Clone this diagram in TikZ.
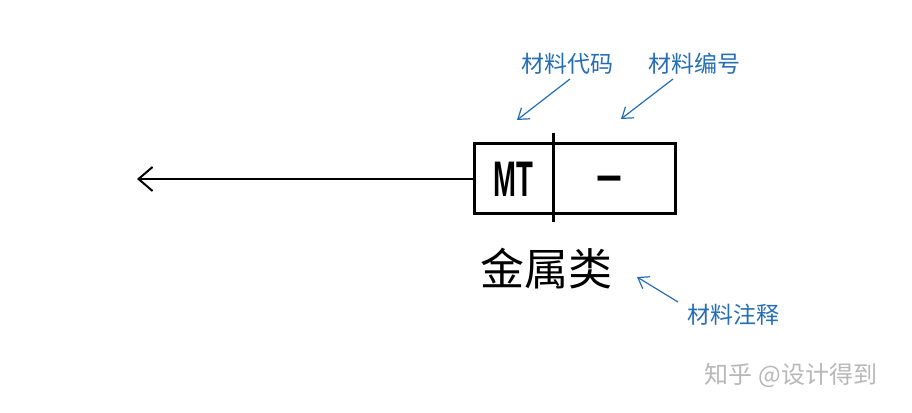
\documentclass[tikz,border=0pt]{standalone}
\usepackage{fontspec}
\setmainfont{Liberation Sans}
\newfontfamily\cjk{Noto Sans CJK SC}
\usetikzlibrary{arrows.meta}
\definecolor{lblblue}{RGB}{38,110,180}
\tikzset{
  x=1pt,y=1pt,
  mainbox/.style={draw=black,line width=3pt,minimum width=201pt,minimum height=70pt,inner sep=0pt},
  bluelbl/.style={text=lblblue,font=\cjk\fontsize{23}{23}\selectfont,inner sep=0pt},
  bluearr/.style={draw=lblblue,line width=1.2pt,-{Straight Barb[length=10pt,width=14pt]}},
}
\begin{document}
\begin{tikzpicture}
\useasboundingbox (0,0) rectangle (912,412);
\fill[white] (0,0) rectangle (912,412);
% main box
\node[mainbox] (box) at (574.5,233) {};
\coordinate (dtop) at (553,279);
\coordinate (dbot) at (553,190);
\draw[line width=3pt] (dtop) -- (dbot);
\node[inner sep=0pt,font=\bfseries\fontsize{50}{50}\selectfont] (mt) at (513,233) {\scalebox{0.55}[1]{MT}};
\node[inner sep=0pt,font=\bfseries\fontsize{60}{60}\selectfont] (dash) at (609,229) {\scalebox{1.5}[0.7]{-}};
% leader line
\coordinate (tip) at (137,233);
\draw[line width=2pt,-{Straight Barb[length=14pt,width=24pt]}] (box.west) -- (tip);
% annotation text
\node[inner sep=0pt,font=\cjk\fontsize{44}{44}\selectfont] (jsl) at (546,143) {金属类};
\node[bluelbl] (l1) at (567,348) {材料代码};
\node[bluelbl] (l2) at (694,348) {材料编号};
\node[bluelbl] (l3) at (733,97) {材料注释};
\coordinate (a1s) at (570,333); \coordinate (a1e) at (517,292);
\coordinate (a2s) at (673,333); \coordinate (a2e) at (621,293);
\coordinate (a3s) at (678,110); \coordinate (a3e) at (637,135);
\draw[bluearr] (a1s) -- (a1e);
\draw[bluearr] (a2s) -- (a2e);
\draw[bluearr] (a3s) -- (a3e);
% watermark
\node[inner sep=0pt,text=black!28,font=\cjk\fontsize{24}{24}\selectfont] (wm) at (791,37) {知乎 @设计得到};
\end{tikzpicture}
\end{document}
